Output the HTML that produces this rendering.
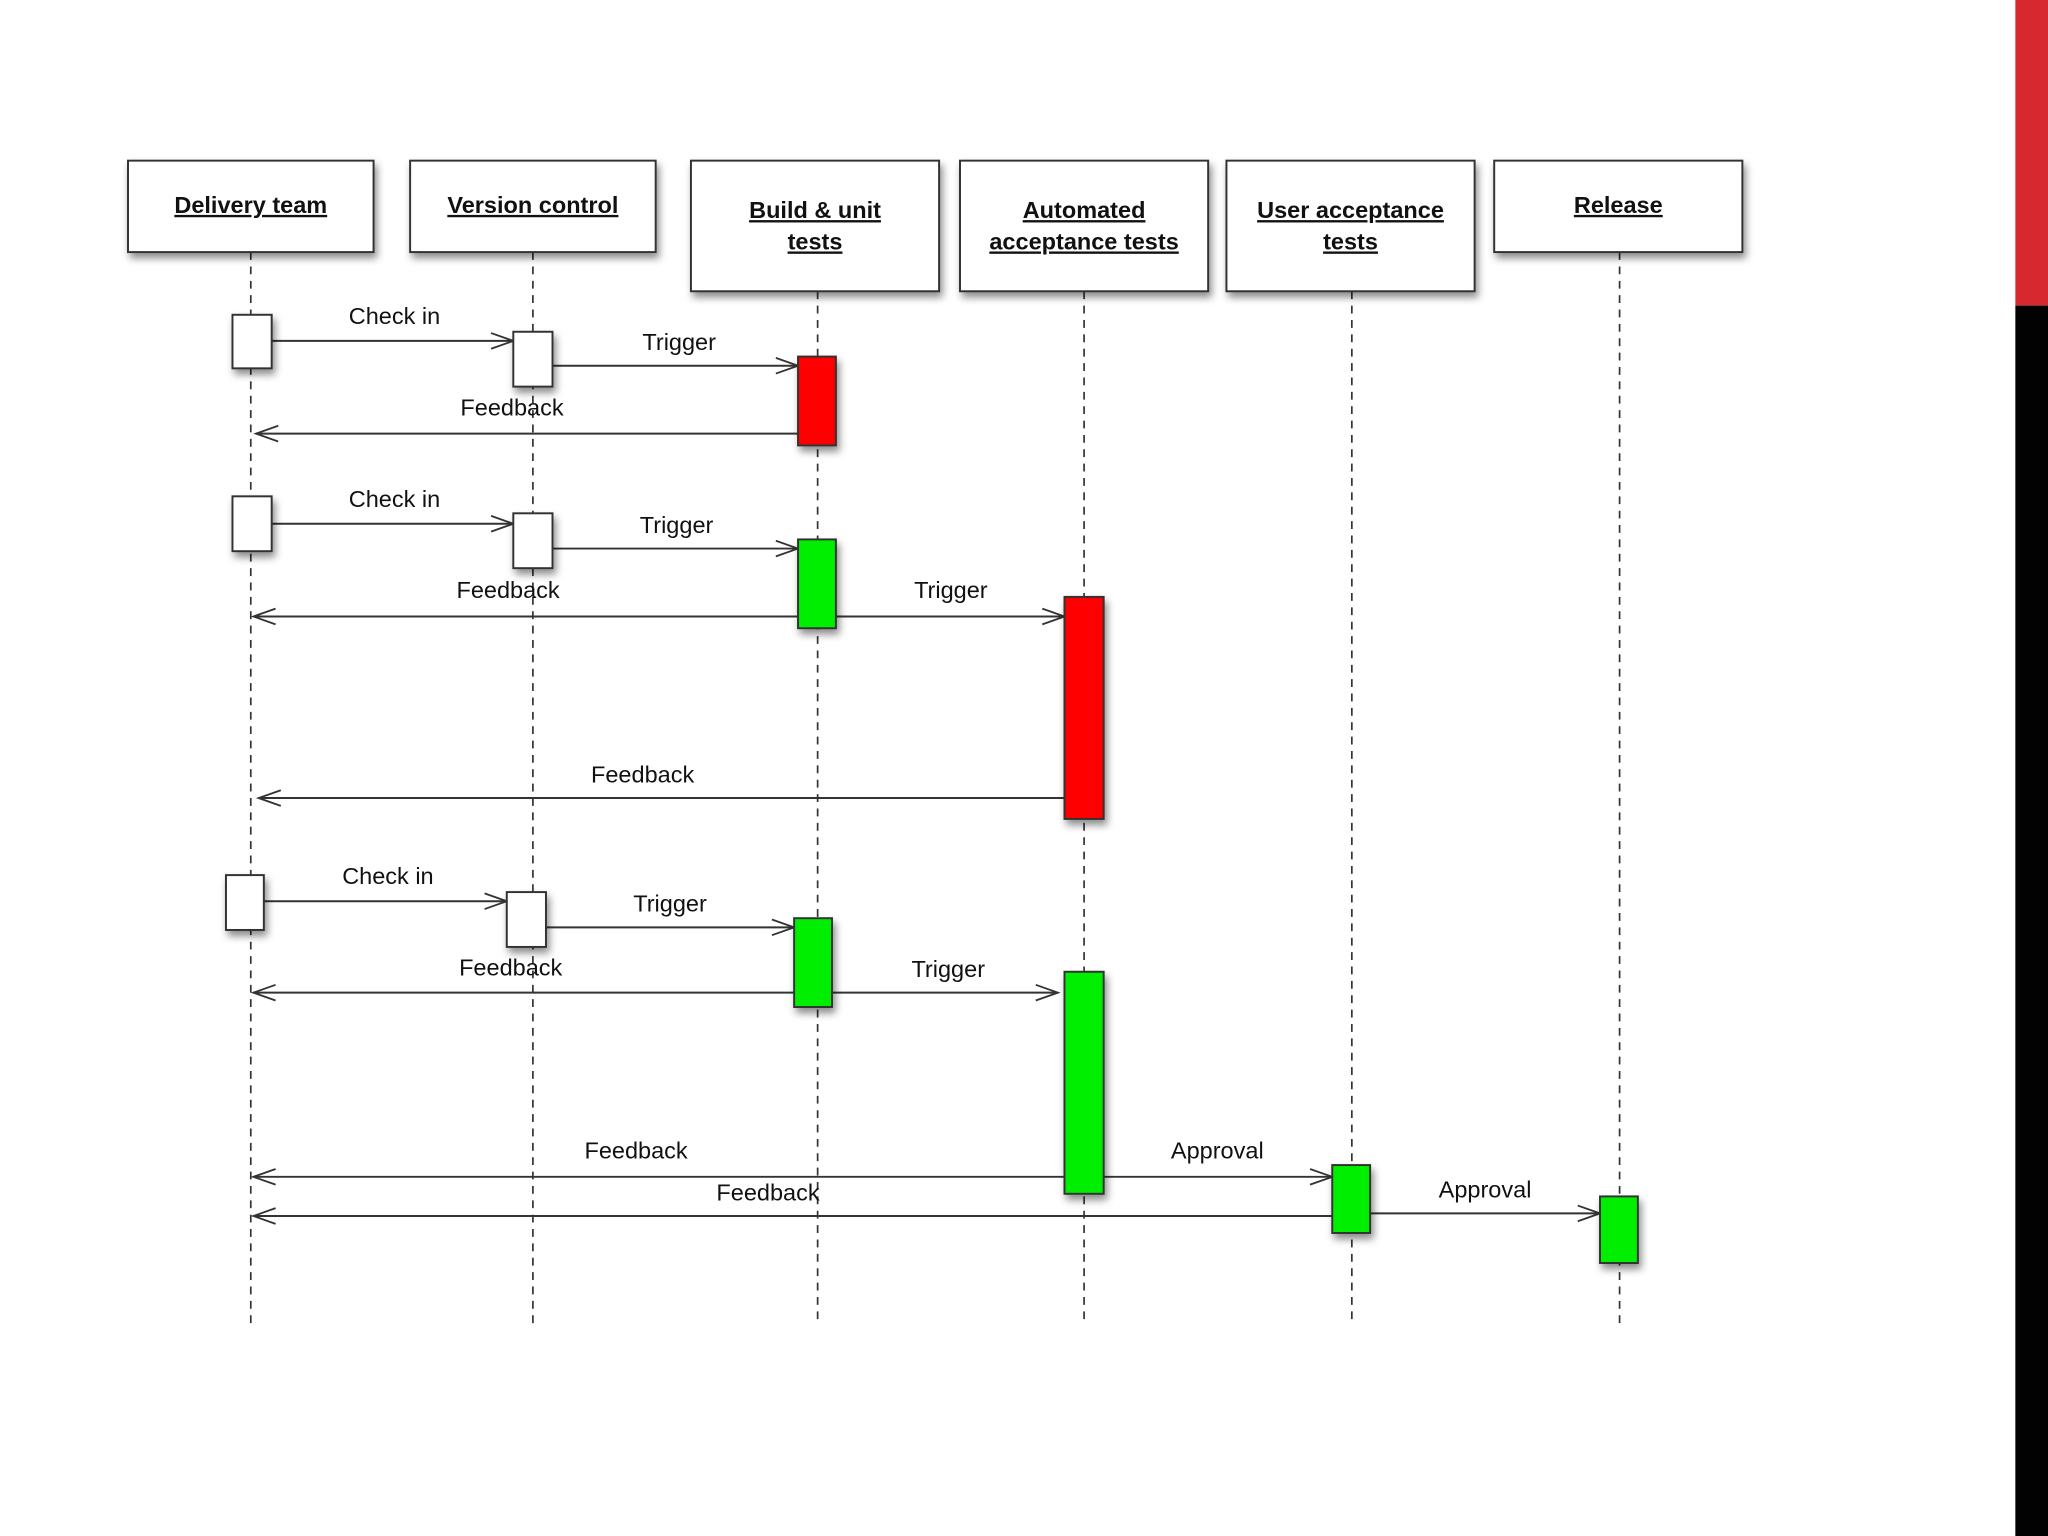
<!DOCTYPE html>
<html><head><meta charset="utf-8"><style>
html,body{margin:0;padding:0;background:#fff;}
svg{display:block}
text{font-family:"Liberation Sans",Arial,sans-serif;}
</style></head><body>
<svg width="2048" height="1536" viewBox="0 0 1568 1176" xmlns="http://www.w3.org/2000/svg">
<defs>
<filter id="sh" x="-10%" y="-10%" width="130%" height="140%"><feDropShadow dx="2" dy="4" stdDeviation="3" flood-color="#000" flood-opacity="0.45"/></filter>
<marker id="a" markerWidth="20" markerHeight="14" refX="18" refY="7" orient="auto" markerUnits="userSpaceOnUse"><path d="M1,1 L18,7 L1,13" fill="none" stroke="#333" stroke-width="1.4"/></marker>
</defs>
<rect width="1568" height="1176" fill="#fff"/>
<rect x="1543" y="0" width="25" height="234" fill="#d6282e"/>
<rect x="1543" y="234" width="25" height="942" fill="#030203"/>
<g stroke="#333" stroke-width="1.3" stroke-dasharray="6,5">
<line x1="192" y1="193" x2="192" y2="1016"/><line x1="408" y1="193" x2="408" y2="1016"/>
<line x1="626" y1="223" x2="626" y2="1014"/><line x1="830" y1="223" x2="830" y2="1014"/>
<line x1="1035" y1="223" x2="1035" y2="1014"/><line x1="1240" y1="193" x2="1240" y2="1014"/>
</g>
<g fill="#fff" stroke="#333" stroke-width="1.5" filter="url(#sh)">
<rect x="98" y="123" width="188" height="70"/><rect x="314" y="123" width="188" height="70"/>
<rect x="529" y="123" width="190" height="100"/><rect x="735" y="123" width="190" height="100"/>
<rect x="939" y="123" width="190" height="100"/><rect x="1144" y="123" width="190" height="70"/>
</g>
<g font-size="18" font-weight="bold" text-anchor="middle" text-decoration="underline" fill="#111">
<text x="192" y="163">Delivery team</text><text x="408" y="163">Version control</text>
<text x="624" y="167">Build &amp; unit</text><text x="624" y="191">tests</text>
<text x="830" y="167">Automated</text><text x="830" y="191">acceptance tests</text>
<text x="1034" y="167">User acceptance</text><text x="1034" y="191">tests</text>
<text x="1239" y="163">Release</text>
</g>
<g stroke="#333" stroke-width="1.5" fill="none" marker-end="url(#a)">
<line x1="208" y1="261" x2="393" y2="261"/><line x1="423" y1="280" x2="611" y2="280"/><line x1="611" y1="332" x2="196" y2="332"/>
<line x1="208" y1="401" x2="393" y2="401"/><line x1="423" y1="420" x2="611" y2="420"/><line x1="611" y1="472" x2="194" y2="472"/>
<line x1="640" y1="472" x2="815" y2="472"/><line x1="815" y1="611" x2="198" y2="611"/>
<line x1="202" y1="690" x2="388" y2="690"/><line x1="418" y1="710" x2="608" y2="710"/><line x1="608" y1="760" x2="194" y2="760"/>
<line x1="637" y1="760" x2="810" y2="760"/><line x1="815" y1="901" x2="194" y2="901"/><line x1="845" y1="901" x2="1020" y2="901"/>
<line x1="1020" y1="931" x2="194" y2="931"/><line x1="1049" y1="929" x2="1225" y2="929"/>
</g>
<g stroke="#333" stroke-width="1.5" filter="url(#sh)">
<rect x="178" y="241" width="30" height="41" fill="#fff"/><rect x="393" y="254" width="30" height="42" fill="#fff"/>
<rect x="611" y="273" width="29" height="68" fill="#f00"/>
<rect x="178" y="380" width="30" height="42" fill="#fff"/><rect x="393" y="393" width="30" height="42" fill="#fff"/>
<rect x="611" y="413" width="29" height="68" fill="#0e0"/><rect x="815" y="457" width="30" height="170" fill="#f00"/>
<rect x="173" y="670" width="29" height="42" fill="#fff"/><rect x="388" y="683" width="30" height="42" fill="#fff"/>
<rect x="608" y="703" width="29" height="68" fill="#0e0"/><rect x="815" y="744" width="30" height="170" fill="#0e0"/>
<rect x="1020" y="892" width="29" height="52" fill="#0e0"/><rect x="1225" y="916" width="29" height="51" fill="#0e0"/>
</g>
<g font-size="18" text-anchor="middle" fill="#111">
<text x="302" y="248">Check in</text><text x="520" y="268">Trigger</text><text x="392" y="318">Feedback</text>
<text x="302" y="388">Check in</text><text x="518" y="408">Trigger</text><text x="389" y="458">Feedback</text>
<text x="728" y="458">Trigger</text><text x="492" y="599">Feedback</text>
<text x="297" y="677">Check in</text><text x="513" y="698">Trigger</text><text x="391" y="747">Feedback</text>
<text x="726" y="748">Trigger</text><text x="487" y="887">Feedback</text><text x="932" y="887">Approval</text>
<text x="588" y="919">Feedback</text><text x="1137" y="917">Approval</text>
</g>
</svg>
</body></html>
